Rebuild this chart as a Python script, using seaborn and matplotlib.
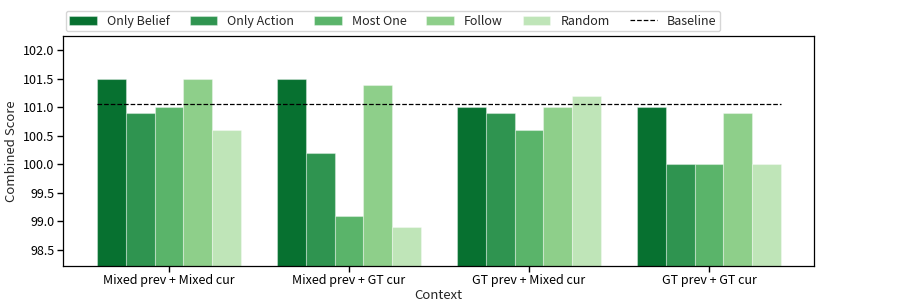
import pandas as pd
import matplotlib
matplotlib.use("Agg")
import matplotlib.pyplot as plt
import seaborn as sns

contexts = ["Mixed prev + Mixed cur", "Mixed prev + GT cur", "GT prev + Mixed cur", "GT prev + GT cur"]
methods = ["Only Belief", "Only Action", "Most One", "Follow", "Random"]
only_belief = [101.5, 101.5, 101.0, 101.0]
only_action = [100.9, 100.2, 100.9, 100.0]
most_one = [101.0, 99.1, 100.6, 100.0]
follow = [101.5, 101.4, 101.0, 100.9]
random_ctx = [100.6, 98.9, 101.2, 100.0]
baseline = 101.05

colors = ["#077130", "#2f9450", "#5ab46a", "#8ecf8a", "#bfe5b8"]

rows = []
for name, vals in zip(methods, [only_belief, only_action, most_one, follow, random_ctx]):
    for ctx, v in zip(contexts, vals):
        rows.append({"Context": ctx, "Combined Score": v, "Method": name})
df = pd.DataFrame(rows)

sns.set_style("ticks")
plt.rcParams["font.family"] = ["Noto Sans CJK SC", "DejaVu Sans"]
plt.rcParams["font.size"] = 9

fig = plt.figure(figsize=(9.05, 3.02), dpi=100)
ax = fig.add_axes([63 / 905, 36 / 302, 751 / 905, 230 / 302])

sns.barplot(data=df, x="Context", y="Combined Score", hue="Method",
            hue_order=methods, order=contexts, palette=colors, saturation=1,
            width=0.8, edgecolor=(1, 1, 1, 0.35), linewidth=0.8, ax=ax)

ax.hlines(baseline, -0.4, len(contexts) - 0.6, colors="black",
          linestyles="--", linewidth=0.9, label="Baseline")

ax.set_ylim(98.22, 102.25)
ax.set_xlim(-0.589, 3.583)
ax.set_yticks([98.5, 99.0, 99.5, 100.0, 100.5, 101.0, 101.5, 102.0])
ax.set_yticklabels([f"{t:.1f}" for t in ax.get_yticks()])
ax.tick_params(labelsize=9, colors="black", direction="out", length=4,
               width=1, pad=2, bottom=True, left=True)
ax.set_xlabel("Context", fontsize=9.5, labelpad=1)
ax.set_ylabel("Combined Score", fontsize=9.5, labelpad=4)
for s in ax.spines.values():
    s.set_visible(True)
    s.set_color("black")
    s.set_linewidth(0.9)

handles, labels = ax.get_legend_handles_labels()
ax.legend(handles, labels, loc="upper center", bbox_to_anchor=(393 / 905, 0.985),
          bbox_transform=fig.transFigure, ncol=6, fontsize=9, frameon=True,
          columnspacing=1.6, handlelength=2.2, borderpad=0.3)

fig.savefig("out.png", dpi=100)
